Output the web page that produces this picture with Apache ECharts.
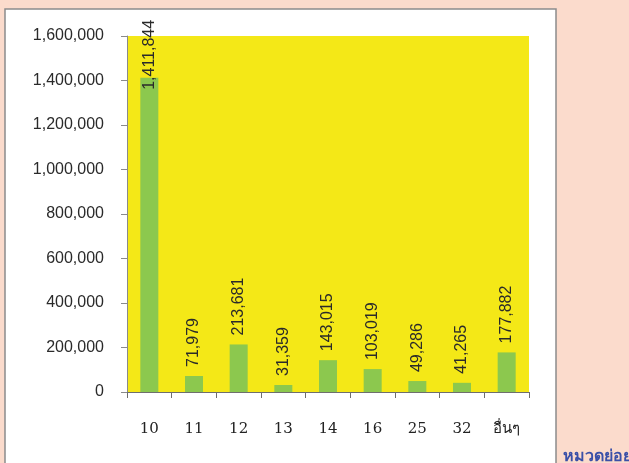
<!DOCTYPE html>
<html>
<head>
<meta charset="utf-8">
<script src="https://cdn.jsdelivr.net/npm/echarts@6/dist/echarts.min.js"></script>
<style>
html,body{margin:0;padding:0;background:#fbdbcc;}
#chart{width:629px;height:463px;}
</style>
</head>
<body>
<div id="chart"></div>
<script>
const categories = ['10', '11', '12', '13', '14', '16', '25', '32', 'อื่นๆ'];
const values = [1411844, 71979, 213681, 31359, 143015, 103019, 49286, 41265, 177882];
const yTicks = { min: 0, max: 1600000, interval: 200000 };
const cornerText = 'หมวดย่อย';

const chart = echarts.init(document.getElementById('chart'));
const fmt = v => v.toString().replace(/\B(?=(\d{3})+(?!\d))/g, ',');

const barData = values.map((v, i) => i === 0
  ? { value: v, label: { distance: -12 } }
  : v);

chart.setOption({
  backgroundColor: '#fbdbcc',
  animation: false,
  graphic: [
    { type: 'rect', z: -10, shape: { x: 5, y: 9, width: 551, height: 470 },
      style: { fill: '#ffffff', stroke: '#8c8c8c', lineWidth: 1.5 } },
    { type: 'text', left: 563, top: 448,
      style: { text: cornerText, fill: '#3a50a8', font: 'bold 16px "Noto Sans", "DejaVu Sans", sans-serif' } }
  ],
  grid: { left: 127, top: 36, right: 100, bottom: 71, backgroundColor: '#f4e817', show: true, borderWidth: 0 },
  xAxis: {
    type: 'category',
    data: categories,
    axisLine: { lineStyle: { color: '#6e6e6e', width: 1 } },
    axisTick: { show: true, length: 6, lineStyle: { color: '#6e6e6e' } },
    axisLabel: { margin: 30, color: '#222', fontSize: 15, fontFamily: 'DejaVu Serif, serif' }
  },
  yAxis: {
    type: 'value',
    min: yTicks.min, max: yTicks.max, interval: yTicks.interval,
    splitLine: { show: false },
    axisLine: { show: true, lineStyle: { color: '#8a8a8a', width: 1 } },
    axisTick: { show: true, length: 6, lineStyle: { color: '#8a8a8a' } },
    axisLabel: { margin: 23, color: '#2a2a2a', fontSize: 16, fontFamily: 'Liberation Sans, sans-serif',
      formatter: v => fmt(v) }
  },
  series: [{
    type: 'bar',
    data: barData,
    barWidth: 18,
    itemStyle: { color: '#8cc84e' },
    label: {
      show: true, position: 'top', rotate: 90, align: 'left', verticalAlign: 'middle',
      distance: 9, color: '#2a2a2a', fontSize: 16, fontFamily: 'Liberation Sans, sans-serif',
      formatter: p => fmt(p.value)
    }
  }]
});
</script>
</body>
</html>
